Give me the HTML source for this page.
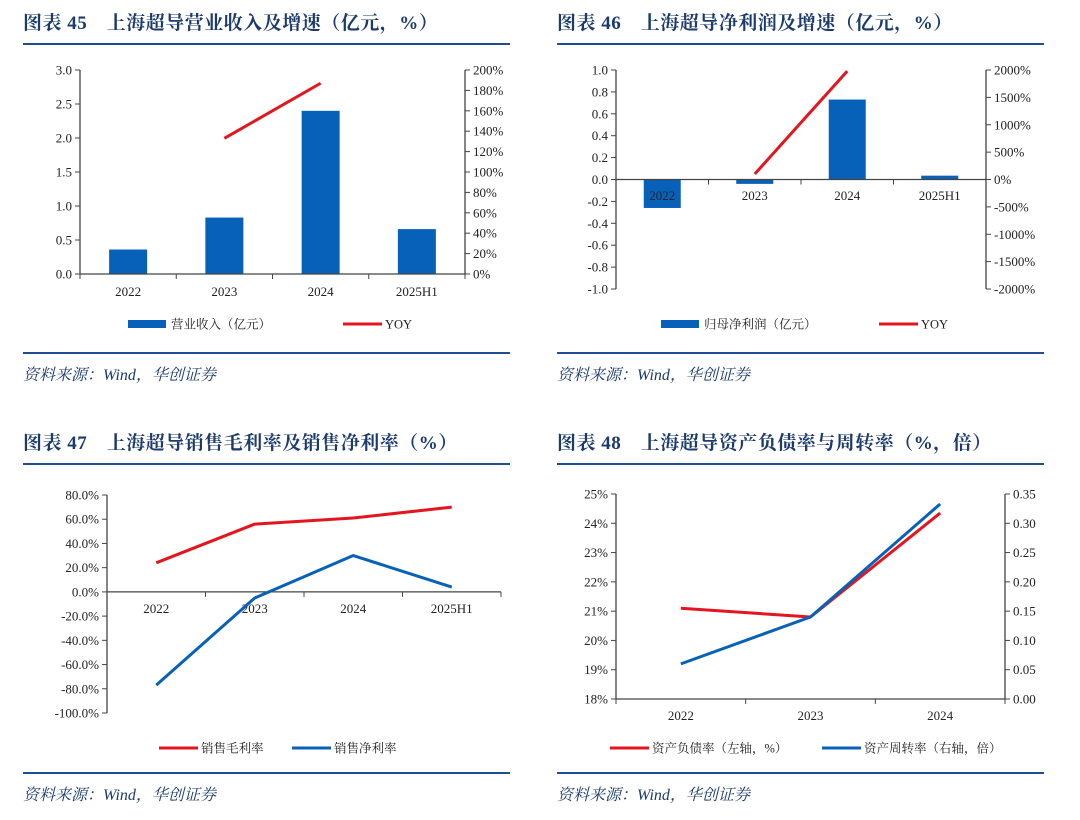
<!DOCTYPE html>
<html><head><meta charset="utf-8">
<style>
body{margin:0;width:1080px;height:820px;background:#fff;overflow:hidden;font-family:"Liberation Serif","Noto Serif CJK SC",serif}
svg{position:absolute;left:0;top:0}
.title{font-family:"Liberation Serif","Noto Serif CJK SC",serif;font-weight:bold;font-size:19px;fill:#1b3a6e;letter-spacing:0.5px}
.tick{font-size:13px;fill:#222}
.leg{font-size:12.5px;fill:#222}
.src{font-style:italic;font-size:16px;fill:#1b3a6e}
</style></head><body>
<svg id="s" width="1080" height="820"></svg>
<script>
// Chart 45 data
const c45Cats=["2022","2023","2024","2025H1"];
const c45Rev=[0.36,0.83,2.40,0.66];
const c45Yoy=[null,133,187,null];
const c45LTicks=["0.0","0.5","1.0","1.5","2.0","2.5","3.0"];
const c45RTicks=["0%","20%","40%","60%","80%","100%","120%","140%","160%","180%","200%"];
// Chart 46 data
const c46Cats=["2022","2023","2024","2025H1"];
const c46Prof=[-0.26,-0.04,0.73,0.035];
const c46Yoy=[null,100,1980,null];
const c46LTicks=["-1.0","-0.8","-0.6","-0.4","-0.2","0.0","0.2","0.4","0.6","0.8","1.0"];
const c46RTicks=["-2000%","-1500%","-1000%","-500%","0%","500%","1000%","1500%","2000%"];
// Chart 47 data
const c47Cats=["2022","2023","2024","2025H1"];
const c47Gross=[24,56,61,70];
const c47Net=[-77,-5,30,4];
const c47Ticks=["-100.0%","-80.0%","-60.0%","-40.0%","-20.0%","0.0%","20.0%","40.0%","60.0%","80.0%"];
// Chart 48 data
const c48Cats=["2022","2023","2024"];
const c48Debt=[21.1,20.8,24.35];
const c48Turn=[0.06,0.14,0.333];
const c48LTicks=["18%","19%","20%","21%","22%","23%","24%","25%"];
const c48RTicks=["0.00","0.05","0.10","0.15","0.20","0.25","0.30","0.35"];

const S=document.getElementById('s');const NS="http://www.w3.org/2000/svg";
function el(t,a,txt){const e=document.createElementNS(NS,t);for(const k in a)e.setAttribute(k,a[k]);if(txt!==undefined)e.textContent=txt;S.appendChild(e);return e;}
const BLUE="#0861b8",RED="#e3161f",NAVY="#1f4e96";
function frame(x,y,title,name){
  let t=el('text',{x:x,y:y+29,class:'title'},title);
  
  let r=el('line',{x1:x,x2:x+487,y1:y+44,y2:y+44,stroke:NAVY,'stroke-width':2});
  
  let b=el('line',{x1:x,x2:x+487,y1:y+353,y2:y+353,stroke:NAVY,'stroke-width':2});
  
  let s=el('text',{x:x,y:y+380,class:'src'},'资料来源：Wind，华创证券');
  
}
function axisV(x,y0,y1,labels,side,name){
  let a=el('line',{x1:x,x2:x,y1:y0,y2:y1,stroke:'#444','stroke-width':1.3});
  
  labels.forEach((l,i)=>{const y=y0+(y1-y0)*i/(labels.length-1);
    el('line',{x1:side<0?x-5:x,x2:side<0?x:x+5,y1:y,y2:y,stroke:'#444'});
    let t=el('text',{x:side<0?x-8:x+8,y:y+4.5,class:'tick','text-anchor':side<0?'end':'start'},l);
    });
}
function axisX(x0,x1,y,cats,ly,name){
  let a=el('line',{x1:x0,x2:x1,y1:y,y2:y,stroke:'#444','stroke-width':1.3});
  
  const w=(x1-x0)/cats.length;
  for(let i=0;i<=cats.length;i++)el('line',{x1:x0+w*i,x2:x0+w*i,y1:y,y2:y+5,stroke:'#444'});
  cats.forEach((c,i)=>{let t=el('text',{x:x0+w*(i+.5),y:ly,class:'tick','text-anchor':'middle'},c);
    });
}
function lineSeries(vals,xf,yf,color,name){
  let pts=[];vals.forEach((v,i)=>{if(v!==null)pts.push(xf(i)+','+yf(v));});
  let p=el('polyline',{points:pts.join(' '),fill:'none',stroke:color,'stroke-width':3,'stroke-linejoin':'round'});
  
}
function legend(items,y){
  items.forEach(it=>{
    let g;
    if(it.bar)g=el('rect',{x:it.x,y:y-4,width:38,height:8,fill:it.c});
    else g=el('line',{x1:it.x,x2:it.x+39,y1:y,y2:y,stroke:it.c,'stroke-width':3});
    
    let t=el('text',{x:it.x+(it.bar?43:42),y:y+4.5,class:'leg'},it.t);
    
  });
}
// Chart 45
frame(23,0,'图表 45　上海超导营业收入及增速（亿元，%）','chart45');
(function(){const L=80,R=465,T=70,B=274,w=(R-L)/c45Cats.length;
 const yL=v=>B-(B-T)*v/3,yR=v=>B-(B-T)*v/200,xc=i=>L+w*(i+.5);
 c45Rev.forEach((v,i)=>{let r=el('rect',{x:xc(i)-19,y:yL(v),width:38,height:B-yL(v),fill:BLUE});
  });
 axisV(L,B,T,c45LTicks,-1,'chart45-left-axis');axisV(R,B,T,c45RTicks,1,'chart45-right-axis');
 axisX(L,R,B,c45Cats,296,'chart45-x-axis');
 lineSeries(c45Yoy,xc,yR,RED,'chart45-yoy-line');
 legend([{x:128,c:BLUE,bar:1,t:'营业收入（亿元）'},{x:343,c:RED,t:'YOY'}],324);
})();
// Chart 46
frame(557,0,'图表 46　上海超导净利润及增速（亿元，%）','chart46');
(function(){const L=616,R=986,T=70,B=289,Z=(T+B)/2,w=(R-L)/c46Cats.length;
 const yL=v=>Z-(Z-T)*v,yR=v=>Z-(Z-T)*v/2000,xc=i=>L+w*(i+.5);
 c46Prof.forEach((v,i)=>{const y=Math.min(yL(v),Z);let r=el('rect',{x:xc(i)-18.5,y:y,width:37,height:Math.abs(yL(v)-Z),fill:BLUE});
  });
 axisV(L,B,T,c46LTicks,-1,'chart46-left-axis');axisV(R,B,T,c46RTicks,1,'chart46-right-axis');
 axisX(L,R,Z,c46Cats,200,'chart46-x-axis');
 lineSeries(c46Yoy,xc,yR,RED,'chart46-yoy-line');
 legend([{x:661,c:BLUE,bar:1,t:'归母净利润（亿元）'},{x:879,c:RED,t:'YOY'}],324);
})();
// Chart 47
frame(23,420,'图表 47　上海超导销售毛利率及销售净利率（%）','chart47');
(function(){const L=107,R=501,T=495,B=713,w=(R-L)/c47Cats.length;
 const y=v=>B-(B-T)*(v+100)/180,xc=i=>L+w*(i+.5);
 axisV(L,B,T,c47Ticks,-1,'chart47-y-axis');
 axisX(L,R,y(0),c47Cats,613,'chart47-x-axis');
 lineSeries(c47Gross,xc,y,RED,'chart47-gross-margin-line');
 lineSeries(c47Net,xc,y,BLUE,'chart47-net-margin-line');
 legend([{x:159,c:RED,t:'销售毛利率'},{x:292,c:BLUE,t:'销售净利率'}],748);
})();
// Chart 48
frame(557,420,'图表 48　上海超导资产负债率与周转率（%，倍）','chart48');
(function(){const L=616,R=1005,T=494,B=699,w=(R-L)/c48Cats.length;
 const yL=v=>B-(B-T)*(v-18)/7,yR=v=>B-(B-T)*v/0.35,xc=i=>L+w*(i+.5);
 axisV(L,B,T,c48LTicks,-1,'chart48-left-axis');axisV(R,B,T,c48RTicks,1,'chart48-right-axis');
 axisX(L,R,B,c48Cats,720,'chart48-x-axis');
 lineSeries(c48Debt,xc,yL,RED,'chart48-debt-ratio-line');
 lineSeries(c48Turn,xc,yR,BLUE,'chart48-turnover-line');
 legend([{x:610,c:RED,t:'资产负债率（左轴，%）'},{x:822,c:BLUE,t:'资产周转率（右轴，倍）'}],748);
})();
</script>
</body></html>
